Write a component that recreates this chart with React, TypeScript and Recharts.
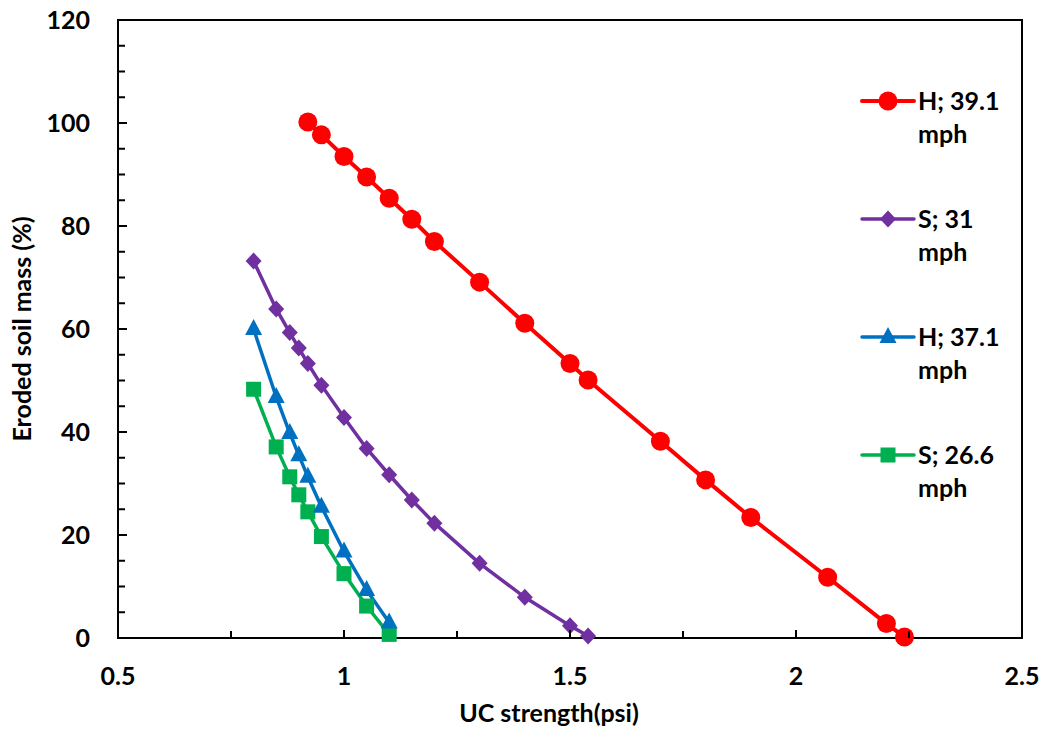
import React from "react";
import { LineChart, Line, XAxis, YAxis, ReferenceArea } from "recharts";

const redX = [0.92, 0.95, 1.0, 1.05, 1.1, 1.15, 1.2, 1.3, 1.4, 1.5, 1.54, 1.7, 1.8, 1.9, 2.07, 2.2, 2.24];
const redY = [100.2, 97.7, 93.5, 89.5, 85.4, 81.3, 77.0, 69.1, 61.1, 53.3, 50.1, 38.2, 30.7, 23.4, 11.8, 2.8, 0.2];
const purpleX = [0.8, 0.85, 0.88, 0.9, 0.92, 0.95, 1.0, 1.05, 1.1, 1.15, 1.2, 1.3, 1.4, 1.5, 1.54];
const purpleY = [73.2, 63.9, 59.3, 56.3, 53.3, 49.1, 42.8, 36.8, 31.7, 26.8, 22.3, 14.5, 7.9, 2.4, 0.4];
const blueX = [0.8, 0.85, 0.88, 0.9, 0.92, 0.95, 1.0, 1.05, 1.1];
const blueY = [60.0, 46.8, 39.8, 35.5, 31.3, 25.5, 16.8, 9.3, 3.0];
const greenX = [0.8, 0.85, 0.88, 0.9, 0.92, 0.95, 1.0, 1.05, 1.1];
const greenY = [48.3, 37.1, 31.3, 27.8, 24.5, 19.7, 12.5, 6.2, 0.7];

const xTicks = [0.5, 0.75, 1, 1.25, 1.5, 1.75, 2, 2.25, 2.5];
const yTicks = [0, 5, 10, 15, 20, 25, 30, 35, 40, 45, 50, 55, 60, 65, 70, 75, 80, 85, 90, 95, 100, 105, 110, 115, 120];

const seriesNames = ["H; 39.1 mph", "S; 31 mph", "H; 37.1 mph", "S; 26.6 mph"];
const RED = "#FF0000";
const PURPLE = "#7030A0";
const BLUE = "#0070C0";
const GREEN = "#00B050";

const zip = (xs: number[], ys: number[]) => xs.map((x, i) => ({ x, y: ys[i] }));
const redData = zip(redX, redY);
const purpleData = zip(purpleX, purpleY);
const blueData = zip(blueX, blueY);
const greenData = zip(greenX, greenY);

const FONT = "Lato, 'Open Sans', sans-serif";
const FS = 25;

const circleShape = (cx: number, cy: number, color: string, k?: any) => (
  <circle key={k} cx={cx} cy={cy} r={9.5} fill={color} />
);
const diamondShape = (cx: number, cy: number, color: string, k?: any) => (
  <polygon key={k} points={`${cx},${cy - 8.5} ${cx + 8},${cy} ${cx},${cy + 8.5} ${cx - 8},${cy}`} fill={color} />
);
const triShape = (cx: number, cy: number, color: string, k?: any) => (
  <polygon key={k} points={`${cx},${cy - 10} ${cx + 8.5},${cy + 6} ${cx - 8.5},${cy + 6}`} fill={color} />
);
const squareShape = (cx: number, cy: number, color: string, k?: any) => (
  <rect key={k} x={cx - 7.5} y={cy - 7.5} width={15} height={15} fill={color} />
);

const makeDot = (fn: any, color: string) => (props: any) => {
  const { cx, cy, index } = props;
  if (cx == null || cy == null) return <g key={index} />;
  return fn(cx, cy, color, index);
};

const renderYTick = (props: any) => {
  const { x, y, payload, index } = props;
  const v = payload.value;
  const major = v % 20 === 0;
  return (
    <g key={index}>
      <line x1={x} x2={x + (major ? 9 : 7)} y1={y} y2={y} stroke="#000" strokeWidth={2} />
      {major && (
        <text x={x - 28} y={y} dy={9} textAnchor="end" fontFamily={FONT} fontWeight={700} fontSize={FS} fill="#000">
          {v}
        </text>
      )}
    </g>
  );
};

const renderXTick = (props: any) => {
  const { x, y, payload, index } = props;
  const v = payload.value;
  const major = Number.isInteger(v * 2);
  return (
    <g key={index}>
      <line x1={x} x2={x} y1={y} y2={y - (major ? 8 : 7)} stroke="#000" strokeWidth={2} />
      {major && (
        <text x={x} y={y + 47} textAnchor="middle" fontFamily={FONT} fontWeight={700} fontSize={FS} fill="#000">
          {String(v)}
        </text>
      )}
    </g>
  );
};

const XTitle = (p: any) => {
  const vb = p.viewBox || {};
  const cx = vb.x + vb.width / 2 - 21;
  return (
    <text x={cx} y={vb.y + 84} textAnchor="middle" fontFamily={FONT} fontWeight={700} fontSize={FS} fill="#000">
      UC strength(psi)
    </text>
  );
};

const YTitle = (p: any) => {
  const vb = p.viewBox || {};
  const cx = vb.x + 31;
  const cy = vb.y + vb.height / 2;
  return (
    <text x={cx} y={cy} transform={`rotate(-90 ${cx} ${cy})`} textAnchor="middle" fontFamily={FONT} fontWeight={700} fontSize={FS} fill="#000">
      Eroded soil mass (%)
    </text>
  );
};

const legendItems = [
  { name: seriesNames[0], color: RED, fn: circleShape, w: 4 },
  { name: seriesNames[1], color: PURPLE, fn: diamondShape, w: 3.5 },
  { name: seriesNames[2], color: BLUE, fn: triShape, w: 3.5 },
  { name: seriesNames[3], color: GREEN, fn: squareShape, w: 3.5 },
];
const legendTop = [101, 219, 337, 455];

export default function App() {
  return (
    <div style={{ position: "absolute", left: 0, top: 0, width: 1045, height: 732, overflow: "hidden" }}>
      <LineChart width={1045} height={732} margin={{ top: 20, left: 0, right: 23, bottom: 0 }}>
        <XAxis
          dataKey="x"
          type="number"
          domain={[0.5, 2.5]}
          ticks={xTicks}
          interval={0}
          allowDataOverflow
          height={94}
          tickSize={0}
          tickMargin={0}
          axisLine={{ stroke: "#000", strokeWidth: 2 }}
          tickLine={false}
          tick={renderXTick}
          label={{ content: XTitle }}
        />
        <YAxis
          type="number"
          domain={[0, 120]}
          ticks={yTicks}
          interval={0}
          width={118}
          tickSize={0}
          tickMargin={0}
          axisLine={{ stroke: "#000", strokeWidth: 2 }}
          tickLine={false}
          tick={renderYTick}
          label={{ content: YTitle }}
        />
        <ReferenceArea x1={0.5} x2={2.5} y1={0} y2={120} fill="none" stroke="#000" strokeWidth={2} ifOverflow="visible" />
        <Line data={greenData} dataKey="y" stroke={GREEN} strokeWidth={3.5} dot={makeDot(squareShape, GREEN)} isAnimationActive={false} name={seriesNames[3]} />
        <Line data={blueData} dataKey="y" stroke={BLUE} strokeWidth={3.5} dot={makeDot(triShape, BLUE)} isAnimationActive={false} name={seriesNames[2]} />
        <Line data={purpleData} dataKey="y" stroke={PURPLE} strokeWidth={3.5} dot={makeDot(diamondShape, PURPLE)} isAnimationActive={false} name={seriesNames[1]} />
        <Line data={redData} dataKey="y" stroke={RED} strokeWidth={4} dot={makeDot(circleShape, RED)} isAnimationActive={false} name={seriesNames[0]} />
      </LineChart>
      {legendItems.map((it, i) => {
        const parts = it.name.split(" mph");
        return (
          <div key={i} style={{ position: "absolute", left: 860, top: legendTop[i] - 16, width: 170, height: 72 }}>
            <svg width={56} height={32} style={{ position: "absolute", left: 0, top: 0 }}>
              <line x1={2} x2={54} y1={16} y2={16} stroke={it.color} strokeWidth={it.w} strokeLinecap="round" />
              {it.fn(28, 16, it.color)}
            </svg>
            <div style={{ position: "absolute", left: 58, top: -1, fontFamily: FONT, fontWeight: 700, fontSize: FS, lineHeight: "33px", color: "#000", whiteSpace: "nowrap" }}>
              <div>{parts[0]}</div>
              <div>mph</div>
            </div>
          </div>
        );
      })}
    </div>
  );
}
